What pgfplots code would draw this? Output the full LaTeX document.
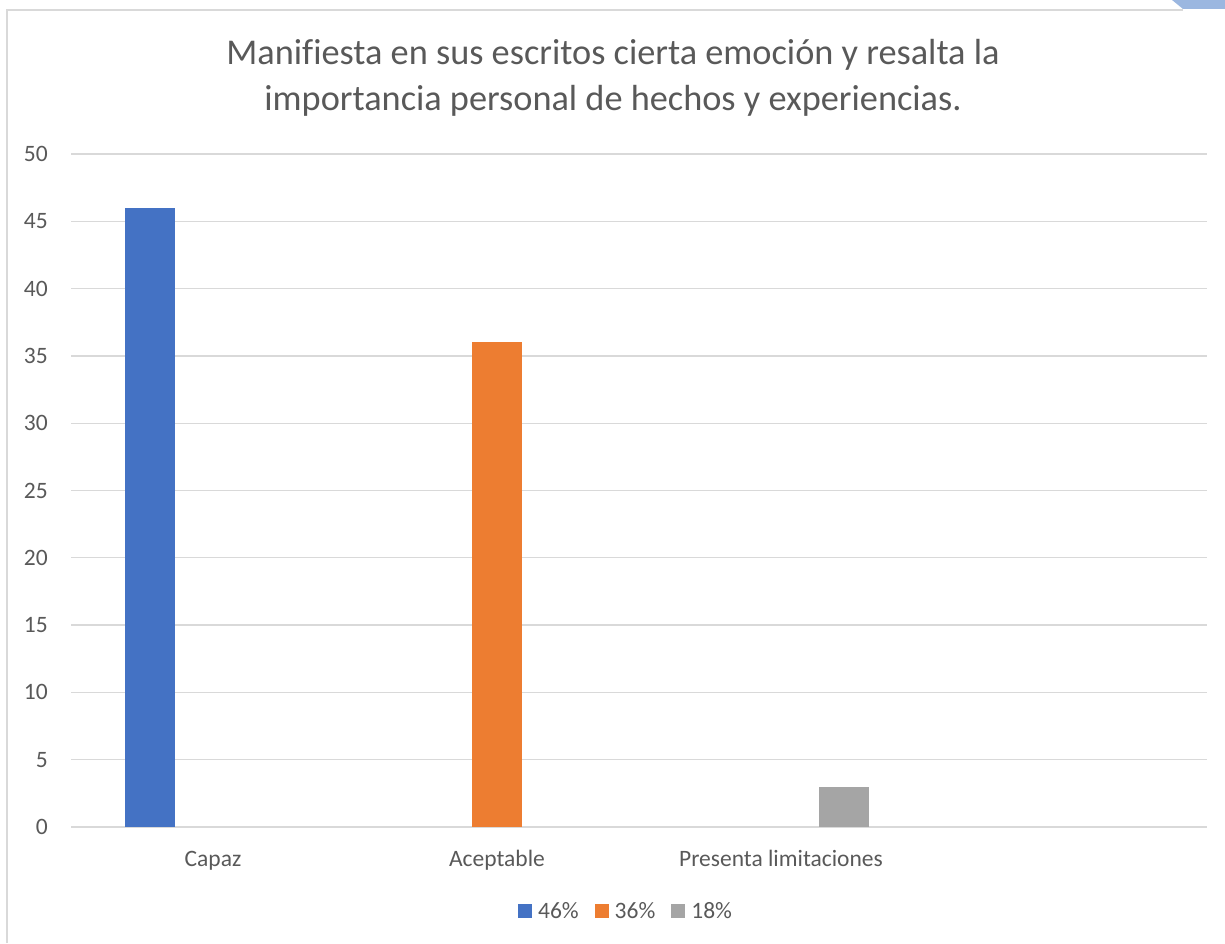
\documentclass[border=0pt]{standalone}
\usepackage{fontspec}
\setmainfont{Carlito}[Ligatures=CommonOff]
\usepackage{pgfplots}
\pgfplotsset{compat=1.18}
\definecolor{cblue}{HTML}{4472C4}
\definecolor{corange}{HTML}{ED7D31}
\definecolor{cgray}{HTML}{A5A5A5}
\definecolor{ctext}{HTML}{595959}
\definecolor{cgrid}{HTML}{D9D9D9}
\definecolor{cdeco}{HTML}{9BB7E0}
\begin{document}
\begin{tikzpicture}
\useasboundingbox (0,0) rectangle (1225pt,943pt);
\draw[cgrid, line width=1.3pt] (7pt,0pt) -- (7pt,933pt) -- (1183pt,933pt);
\fill[cdeco] (1172pt,943pt) -- (1225pt,943pt) -- (1225pt,934pt) -- (1183pt,934pt) -- cycle;
\node[anchor=base, text=ctext, inner sep=0pt, font=\fontsize{36.3}{42}\selectfont] at (613pt,878pt) {Manifiesta en sus escritos cierta emoción y resalta la};
\node[anchor=base, text=ctext, inner sep=0pt, font=\fontsize{36.3}{42}\selectfont] at (613pt,832pt) {importancia personal de hechos y experiencias.};
\begin{axis}[
  at={(71pt,116pt)}, anchor=south west, scale only axis,
  width=1136pt, height=673pt,
  xmin=-0.5, xmax=3.5, ymin=0, ymax=50,
  ybar, bar width=0.176,
  xtick={0,1,2}, xticklabels={Capaz, Aceptable, Presenta limitaciones},
  ytick={0,5,...,50},
  ymajorgrids, grid style={cgrid, line width=1.3pt},
  axis line style={draw=none}, major tick length=0pt,
  tick label style={font=\fontsize{23.5}{28}\selectfont, text=ctext},
  /pgf/number format/assume math mode=true,
  yticklabel style={anchor=east, inner sep=0pt, xshift=-23pt},
  xticklabel style={anchor=base, inner sep=0pt, yshift=-39pt},
  legend style={at={(0.4886,-0.1248)}, anchor=center, draw=none, fill=none,
    legend columns=3, font=\fontsize{23.5}{28}\selectfont, text=ctext,
    nodes={inner sep=2pt},
    /tikz/every odd column/.append style={column sep=4pt},
    /tikz/every even column/.append style={column sep=14pt}},
  legend image code/.code={\fill[#1] (0pt,-7pt) rectangle (14pt,7pt);},
]
\addplot[fill=cblue, draw=none, bar shift=-0.222] coordinates {(0,46)};
\addplot[fill=corange, draw=none, bar shift=0] coordinates {(1,36)};
\addplot[fill=cgray, draw=none, bar shift=0.222] coordinates {(2,3)};
\legend{46\%,36\%,18\%}
\end{axis}
\end{tikzpicture}
\end{document}
